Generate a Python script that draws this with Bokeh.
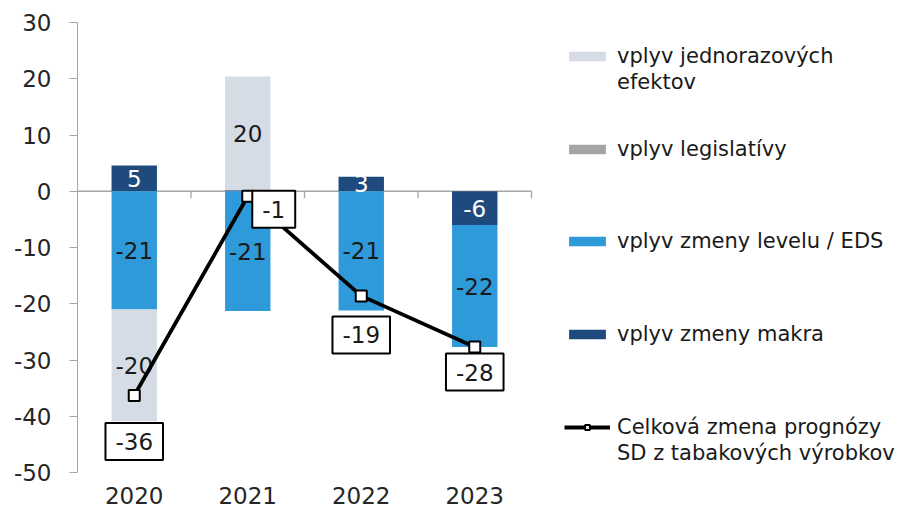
import numpy as np
from bokeh.plotting import figure
from bokeh.models import (ColumnDataSource, FixedTicker, Legend, LegendItem,
                          Range1d)
from bokeh.core.properties import value
from bokeh.embed import file_html
from bokeh.resources import INLINE

# ---- data ----
years = ["2020", "2021", "2022", "2023"]
macro = [4.6, 0.2, 2.6, -6.0]          # vplyv zmeny makra
level = [-21.0, -21.3, -21.2, -21.7]   # vplyv zmeny levelu / EDS
legislation = [0.0, 0.0, 0.0, 0.0]     # vplyv legislatívy
one_off = [-19.9, 20.2, 0.0, 0.0]      # vplyv jednorazových efektov
total = [-36.3, -0.9, -18.6, -27.7]    # Celková zmena prognózy
y_ticks = [-50, -40, -30, -20, -10, 0, 10, 20, 30]

names = {
    "one_off": ["vplyv jednorazových", "efektov"],
    "legislation": ["vplyv legislatívy"],
    "level": ["vplyv zmeny levelu / EDS"],
    "macro": ["vplyv zmeny makra"],
    "total": ["Celková zmena prognózy", "SD z tabakových výrobkov"],
}

# ---- style ----
FONT = "DejaVu Sans"
colors = {"one_off": "#d6dce5", "legislation": "#a5a5a5",
          "level": "#2e9ad9", "macro": "#1f4a7e"}
text_colors = {"one_off": "#1a1a1a", "legislation": "#1a1a1a",
               "level": "#1a1a1a", "macro": "#ffffff"}
label_dx = [0, 26, 0, 0]
label_dy = [46, 13, 39, 25]   # screen px, downward
legend_first_line_y = {"one_off": 57, "legislation": 150, "level": 242,
                       "macro": 335, "total": 428}   # px from top of picture
legend_line_h = 26
cat_px = 113.5
frame_left, frame_w = 77, 827
page_top = 1
frame_top, frame_h, bottom_border = 22, 450, 42
fig_h = frame_top + frame_h + bottom_border

n = len(years)
xs = np.arange(n) + 0.5

p = figure(width=frame_left + frame_w, height=fig_h, output_backend="svg",
           toolbar_location=None,
           x_range=Range1d(0, frame_w / cat_px), y_range=Range1d(-50, 30),
           min_border_left=frame_left, min_border_right=0,
           min_border_top=frame_top, min_border_bottom=bottom_border)
p.outline_line_color = None
p.xgrid.visible = False
p.ygrid.visible = False
p.background_fill_color = "white"

# y axis
ya = p.yaxis[0]
ya.ticker = FixedTicker(ticks=y_ticks)
ya.major_label_overrides = {float(t): str(t) for t in y_ticks}
ya.axis_line_color = "#a6a6a6"
ya.major_tick_line_color = "#a6a6a6"
ya.major_tick_in = 0
ya.major_tick_out = 8
ya.minor_tick_line_color = None
ya.major_label_text_font = FONT
ya.major_label_text_font_size = "23px"
ya.major_label_text_color = "#262626"
ya.major_label_standoff = 18

# x axis (category labels at bottom)
xa = p.xaxis[0]
xa.ticker = FixedTicker(ticks=list(xs))
xa.major_label_overrides = {float(x): y for x, y in zip(xs, years)}
xa.axis_line_color = None
xa.major_tick_line_color = None
xa.minor_tick_line_color = None
xa.major_tick_out = 0
xa.major_tick_in = 0
xa.major_label_text_font = FONT
xa.major_label_text_font_size = "23px"
xa.major_label_text_color = "#262626"
xa.major_label_standoff = 14

# zero line with category boundary ticks
p.segment(x0=[0], y0=[0], x1=[n], y1=[0], line_color="#a6a6a6", line_width=1.3)
tick_units = 7 / (frame_h / 80)
bx = np.arange(1, n + 1)
p.segment(x0=bx, y0=np.zeros(n), x1=bx, y1=np.full(n, -tick_units),
          line_color="#a6a6a6", line_width=1.3)

# stacked bars (positives up, negatives down)
order = [("macro", macro), ("level", level), ("legislation", legislation),
         ("one_off", one_off)]
pos = np.zeros(n)
neg = np.zeros(n)
renderers = {}
lab_x, lab_y, lab_t, lab_c = [], [], [], []
for key, vals in order:
    v = np.array(vals, dtype=float)
    bottom = np.where(v >= 0, pos, neg)
    top = bottom + v
    pos = np.where(v >= 0, top, pos)
    neg = np.where(v < 0, top, neg)
    renderers[key] = p.vbar(x=xs, bottom=bottom, top=top, width=0.4,
                            fill_color=colors[key], line_color=None)
    for i in range(n):
        if abs(v[i]) >= 1:
            lab_x.append(xs[i])
            lab_y.append((bottom[i] + top[i]) / 2)
            lab_t.append(f"{v[i]:.0f}")
            lab_c.append(text_colors[key])

p.text(x=lab_x, y=lab_y, text=lab_t, text_color=lab_c, text_align="center",
       text_baseline="middle", text_font=value(FONT), text_font_size="23px")

# total line
tsrc = ColumnDataSource(dict(x=xs, y=total, t=[f"{v:.0f}" for v in total],
                             dx=label_dx, dy=label_dy))
r_line = p.line("x", "y", source=tsrc, line_color="black", line_width=3.8)
r_pts = p.scatter("x", "y", source=tsrc, marker="square", size=11,
                  fill_color="white", line_color="black", line_width=2)
renderers["total"] = [r_line, r_pts]
p.text(x="x", y="y", text="t", source=tsrc, x_offset="dx", y_offset="dy",
       text_align="center", text_baseline="middle",
       text_font=value(FONT), text_font_size="23px", text_color="#1a1a1a",
       background_fill_color="white", border_line_color="black",
       border_line_width=2, padding=(10, 10, 10, 10))

# legend: one Legend per entry so the swatch aligns with the first text line
frame_bottom_img = page_top + frame_top + frame_h
for key in ["one_off", "legislation", "level", "macro", "total"]:
    rs = renderers[key] if isinstance(renderers[key], list) else [renderers[key]]
    lines = names[key]
    items = [LegendItem(label=lines[0], renderers=rs)]
    for extra in lines[1:]:
        items.append(LegendItem(label=extra, renderers=[]))
    h = legend_line_h * len(lines)
    y_loc = frame_bottom_img - (legend_first_line_y[key] - legend_line_h / 2) - h
    lg = Legend(items=items, location=(487, y_loc))
    lg.glyph_width = 46
    lg.glyph_height = 12
    lg.label_height = legend_line_h
    lg.label_standoff = 7
    lg.label_text_font = FONT
    lg.label_text_font_size = "21px"
    lg.label_text_color = "#1a1a1a"
    lg.spacing = 0
    lg.padding = 0
    lg.margin = 0
    lg.border_line_color = None
    lg.background_fill_alpha = 0
    p.add_layout(lg)

open("out.html", "w").write(file_html(p, INLINE))
